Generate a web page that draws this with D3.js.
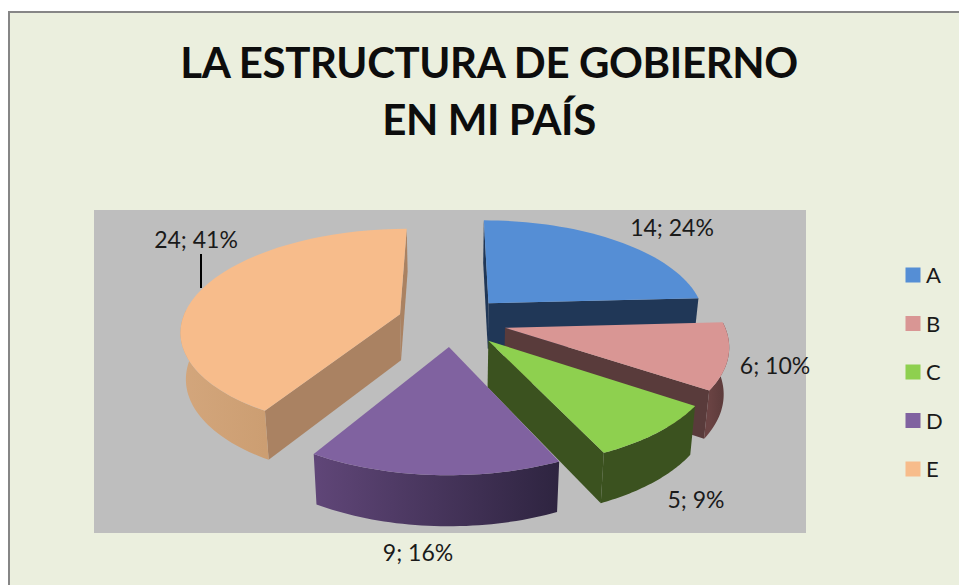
<!DOCTYPE html>
<html><head><meta charset="utf-8">
<script src="https://cdnjs.cloudflare.com/ajax/libs/d3/7.8.5/d3.min.js"></script>
<style>html,body{margin:0;padding:0;background:#fff}svg{display:block}text{font-family:Lato,"Open Sans",sans-serif;fill:#1a1a1a}</style>
</head><body><svg id="c" width="959" height="585"></svg>
<script>
const categories = ["A","B","C","D","E"];
const values = [14,6,5,9,24];
const topColors = ["#558ed5","#d99694","#8ed04f","#8062a0","#f7bc8b"];
const radialColors = ["#203757","#593b3b","#3b521f","#4a3560","#aa8262"];
const wallLeft = ["#2a4a75","#6a4343","#3b521f","#604678","#d3a67c"];
const wallRight = ["#1c3150","#573838","#3b521f","#2e2440","#cc9e72"];
const titleLines = ["LA ESTRUCTURA DE GOBIERNO","EN MI PAÍS"];
const labelAnchors = [[672,228],[775,366],[696,500],[418,553],[196,240]];

const svg = d3.select("#c");
svg.append("rect").attr("x",9).attr("y",12).attr("width",1000).attr("height",620)
  .attr("fill","#ebefde").attr("stroke","#868686").attr("stroke-width",2);
svg.append("rect").attr("x",94).attr("y",210).attr("width",712).attr("height",323).attr("fill","#bebebe");

titleLines.forEach((t,i)=>svg.append("text").attr("x",489).attr("y",78+i*57)
  .attr("text-anchor","middle").attr("font-size",42).attr("letter-spacing",-0.4).attr("font-weight",700).style("fill","#0d0d0d").text(t));

const cx=452, cy=321, R=218, tilt=0.46, persp=0.15, depthH=46, explode=0.25, converge=0.02;
const pie = d3.pie().sort(null).startAngle(0).endAngle(2*Math.PI);
const arcs = pie(values);
const total = d3.sum(values);
const pct = d3.format(".0%");

function proj(a,r,mid,z){
  const X = r*Math.sin(a)+explode*Math.sin(mid);
  const D = -r*Math.cos(a)-explode*Math.cos(mid);
  const w = 1/(1-persp*D);
  return [cx+R*X*w*(1-converge*z), cy+R*tilt*D*w+z*depthH*Math.sqrt(w)];
}
const line = d3.line();
const defs = svg.append("defs");
const gArc = (a0,a1,mid,z)=>d3.range(0,41).map(i=>proj(a0+(a1-a0)*i/40,1,mid,z));

arcs.forEach((d,i)=>{
  const a0=d.startAngle,a1=d.endAngle,m=(a0+a1)/2;
  const g=svg.append("g");
  const apex=proj(0,0,m,0), apexB=proj(0,0,m,1);
  [a0,a1].forEach((a,k)=>{
    const p=proj(a,1,m,0), pb=proj(a,1,m,1);
    const cross=(p[0]-apex[0])*(pb[1]-apex[1])-(p[1]-apex[1])*(pb[0]-apex[0]);
    const front = k===0 ? cross<0 : cross>0;
    if(front) g.append("path").attr("d",line([apex,p,pb,apexB])+"Z").attr("fill",radialColors[i]);
  });
  const s=Math.max(a0,Math.PI/2-0.05), e=Math.min(a1,3*Math.PI/2+0.05);
  if(e>s){
    const top=gArc(s,e,m,0), bot=gArc(s,e,m,1).reverse();
    const id="w"+i;
    const xs=top.map(p=>p[0]);
    const lg=defs.append("linearGradient").attr("id",id).attr("gradientUnits","userSpaceOnUse")
      .attr("x1",d3.min(xs)).attr("x2",d3.max(xs)).attr("y1",0).attr("y2",0);
    lg.append("stop").attr("offset",0).attr("stop-color",wallLeft[i]);
    lg.append("stop").attr("offset",1).attr("stop-color",wallRight[i]);
    g.append("path").attr("d",line(top.concat(bot))+"Z").attr("fill",`url(#${id})`);
  }
  g.append("path").attr("d",line([apex].concat(gArc(a0,a1,m,0)))+"Z").attr("fill",topColors[i]);
});

arcs.forEach((d,i)=>{
  svg.append("text").attr("x",labelAnchors[i][0]).attr("y",labelAnchors[i][1]+8)
    .attr("text-anchor","middle").attr("font-size",23).text(`${d.value}; ${pct(d.value/total)}`);
});
svg.append("line").attr("x1",201).attr("x2",201).attr("y1",254).attr("y2",288).attr("stroke","#000").attr("stroke-width",2);

const ly=d3.scalePoint().domain(categories).range([275,469]);
categories.forEach((c,i)=>{
  svg.append("rect").attr("x",905.5).attr("y",ly(c)-7.5).attr("width",15).attr("height",15).attr("fill",topColors[i]);
  svg.append("text").attr("x",926).attr("y",ly(c)+8).attr("font-size",22).text(c);
});
</script></body></html>
